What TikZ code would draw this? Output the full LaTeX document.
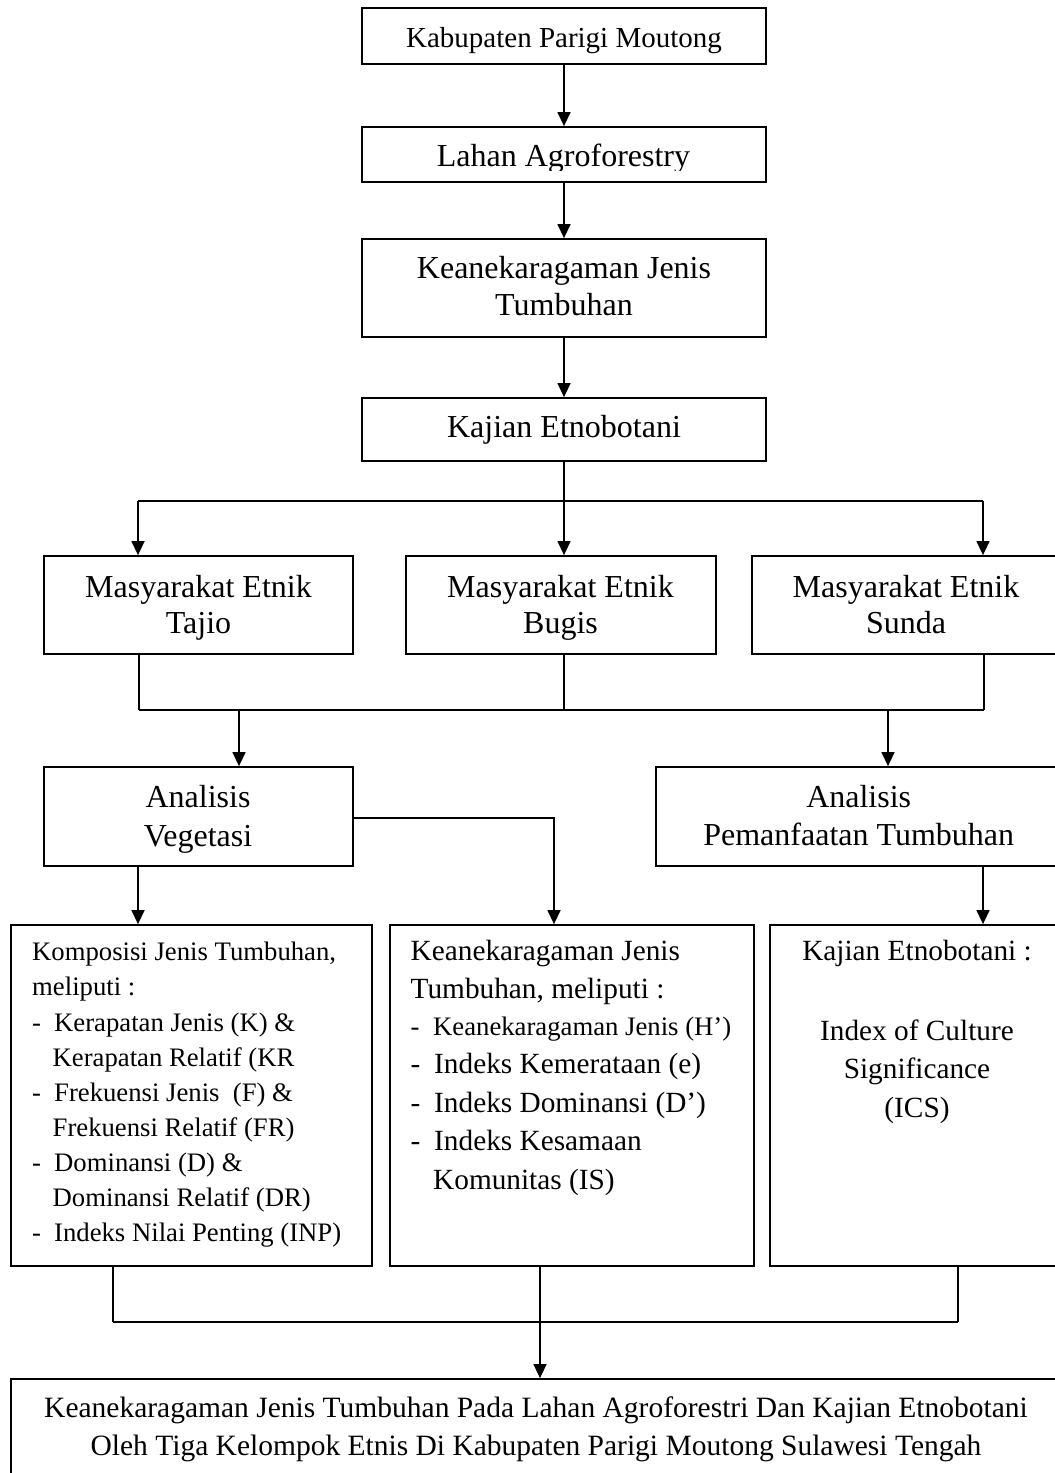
\documentclass[tikz,border=0pt]{standalone}
\usepackage{fontspec}
\setmainfont{Liberation Serif}
\usetikzlibrary{arrows.meta}
\begin{document}
\begin{tikzpicture}[x=1pt,y=-1pt,
  box/.style={draw, line width=1.8pt, inner sep=0pt, rectangle},
  conn/.style={line width=1.4pt},
  arr/.style={line width=1.4pt, -{Triangle[length=14pt,width=13pt]}},
  tA/.style={inner sep=0pt, anchor=base, font=\fontsize{32}{38}\selectfont},
  tS/.style={inner sep=0pt, anchor=base, font=\fontsize{29}{35}\selectfont},
  tM/.style={inner sep=0pt, anchor=base, font=\fontsize{29.3}{35}\selectfont},
  tL/.style={inner sep=0pt, anchor=base west, font=\fontsize{26.7}{32}\selectfont},
  tLM/.style={inner sep=0pt, anchor=base west, font=\fontsize{29.3}{35}\selectfont},
]
\path[use as bounding box, clip] (0,0) rectangle (1055,1473);
\fill[white] (0,0) rectangle (1055,1473);

% boxes
\node[box, minimum width=404pt, minimum height=56pt] (b1) at (564,36) {};
\node[box, minimum width=404pt, minimum height=55pt] (b2) at (564,154.5) {};
\node[box, minimum width=404pt, minimum height=98pt] (b3) at (564,288) {};
\node[box, minimum width=404pt, minimum height=63pt] (b4) at (564,429.5) {};
\node[box, minimum width=309pt, minimum height=98pt] (tajio) at (198.5,605) {};
\node[box, minimum width=310pt, minimum height=98pt] (bugis) at (561,605) {};
\node[box, minimum width=309pt, minimum height=98pt] (sunda) at (906.5,605) {};
\node[box, minimum width=309pt, minimum height=99pt] (veg) at (198.5,816.5) {};
\node[box, minimum width=405pt, minimum height=99pt] (pem) at (858.5,816.5) {};
\node[box, minimum width=361pt, minimum height=341pt] (ka) at (191.5,1095.5) {};
\node[box, minimum width=364pt, minimum height=341pt] (kb) at (572,1095.5) {};
\node[box, minimum width=294pt, minimum height=341pt] (kc) at (917,1095.5) {};
\node[box, minimum width=1050pt, minimum height=101pt] (fin) at (536,1429.5) {};

% texts
\node[tS] (t1) at (564,47) {Kabupaten Parigi Moutong};
\begin{scope}
  \clip (362,127) rectangle (766,170);
  \node[tA] (t2) at (563.5,166) {Lahan Agroforestry};
\end{scope}
\node[tA] (t3a) at (564,278) {Keanekaragaman Jenis};
\node[tA] (t3b) at (564,315) {Tumbuhan};
\node[tA] (t4) at (564,437) {Kajian Etnobotani};

\node[tA] (e1a) at (198.5,597) {Masyarakat Etnik};
\node[tA] (e1b) at (198.5,633) {Tajio};
\node[tA] (e2a) at (560.5,597) {Masyarakat Etnik};
\node[tA] (e2b) at (560.5,633) {Bugis};
\node[tA] (e3a) at (906,597) {Masyarakat Etnik};
\node[tA] (e3b) at (906,633) {Sunda};

\node[tA] (v1) at (198,807) {Analisis};
\node[tA] (v2) at (198,846) {Vegetasi};
\node[tA] (p1) at (858.7,807) {Analisis};
\node[tA] (p2) at (858.7,845) {Pemanfaatan Tumbuhan};

% box A
\node[tL] (a1) at (32,960) {Komposisi Jenis Tumbuhan,};
\node[tL] (a2) at (32,995) {meliputi :};
\node[tL] (a3d) at (32,1031) {-};
\node[tL] (a3) at (54,1031) {Kerapatan Jenis (K) \&};
\node[tL] (a4) at (52.5,1066) {Kerapatan Relatif (KR};
\node[tL] (a5d) at (32,1101) {-};
\node[tL] (a5) at (54,1101) {Frekuensi Jenis\ \ (F) \&};
\node[tL] (a6) at (52.5,1136) {Frekuensi Relatif (FR)};
\node[tL] (a7d) at (32,1171) {-};
\node[tL] (a7) at (54,1171) {Dominansi (D) \&};
\node[tL] (a8) at (52.5,1206) {Dominansi Relatif (DR)};
\node[tL] (a9d) at (32,1241) {-};
\node[tL] (a9) at (54,1241) {Indeks Nilai Penting (INP)};

% box B
\node[tLM] (bb1) at (410.5,960) {Keanekaragaman Jenis};
\node[tLM] (bb2) at (410.5,998) {Tumbuhan, meliputi :};
\node[tL] (bb3d) at (410.5,1035) {-};
\node[tL] (bb3) at (433,1035) {Keanekaragaman Jenis (H’)};
\node[tLM] (bb4d) at (410.5,1073) {-};
\node[tLM] (bb4) at (434,1073) {Indeks Kemerataan (e)};
\node[tLM] (bb5d) at (410.5,1112) {-};
\node[tLM] (bb5) at (434,1112) {Indeks Dominansi (D’)};
\node[tLM] (bb6d) at (410.5,1150) {-};
\node[tLM] (bb6) at (434,1150) {Indeks Kesamaan};
\node[tLM] (bb7) at (433,1189) {Komunitas (IS)};

% box C
\node[tM] (c1) at (917,960) {Kajian Etnobotani :};
\node[tM] (c2) at (917,1040) {Index of Culture};
\node[tM] (c3) at (917,1078) {Significance};
\node[tM] (c4) at (917,1117) {(ICS)};

% final
\node[tM, font=\fontsize{29.5}{35}\selectfont] (f1) at (536,1417) {Keanekaragaman Jenis Tumbuhan Pada Lahan Agroforestri Dan Kajian Etnobotani};
\node[tM, font=\fontsize{29.5}{35}\selectfont] (f2) at (536,1455) {Oleh Tiga Kelompok Etnis Di Kabupaten Parigi Moutong Sulawesi Tengah};

% connectors top
\draw[arr] (b1) -- (b2);
\draw[arr] (b2) -- (b3);
\draw[arr] (b3) -- (b4);

\coordinate (j0) at (564,501);
\coordinate (jl) at (138,501);
\coordinate (jr) at (983,501);
\draw[conn] (b4) -- (j0);
\draw[conn] (jl) -- (jr);
\draw[arr] (jl) -- (jl |- tajio.north);
\draw[arr] (j0) -- (j0 |- bugis.north);
\draw[arr] (jr) -- (jr |- sunda.north);

\coordinate (k1) at (139,710);
\coordinate (k2) at (564,710);
\coordinate (k3) at (984,710);
\coordinate (k4) at (239,710);
\coordinate (k5) at (888,710);
\draw[conn] (k1 |- tajio.south) -- (k1);
\draw[conn] (k2 |- bugis.south) -- (k2);
\draw[conn] (k3 |- sunda.south) -- (k3);
\draw[conn] (k1) -- (k3);
\draw[arr] (k4) -- (k4 |- veg.north);
\draw[arr] (k5) -- (k5 |- pem.north);

\coordinate (m1) at (554,818);
\coordinate (m2) at (138,866);
\coordinate (m3) at (983,866);
\draw[arr] (veg.east |- m1) -- (m1) -- (m1 |- kb.north);
\draw[arr] (m2 |- veg.south) -- (m2 |- ka.north);
\draw[arr] (m3 |- pem.south) -- (m3 |- kc.north);

\coordinate (n1) at (113,1322);
\coordinate (n2) at (540,1322);
\coordinate (n3) at (958,1322);
\draw[conn] (n1 |- ka.south) -- (n1);
\draw[conn] (n2 |- kb.south) -- (n2);
\draw[conn] (n3 |- kc.south) -- (n3);
\draw[conn] (n1) -- (n3);
\draw[arr] (n2) -- (n2 |- fin.north);
\end{tikzpicture}
\end{document}
